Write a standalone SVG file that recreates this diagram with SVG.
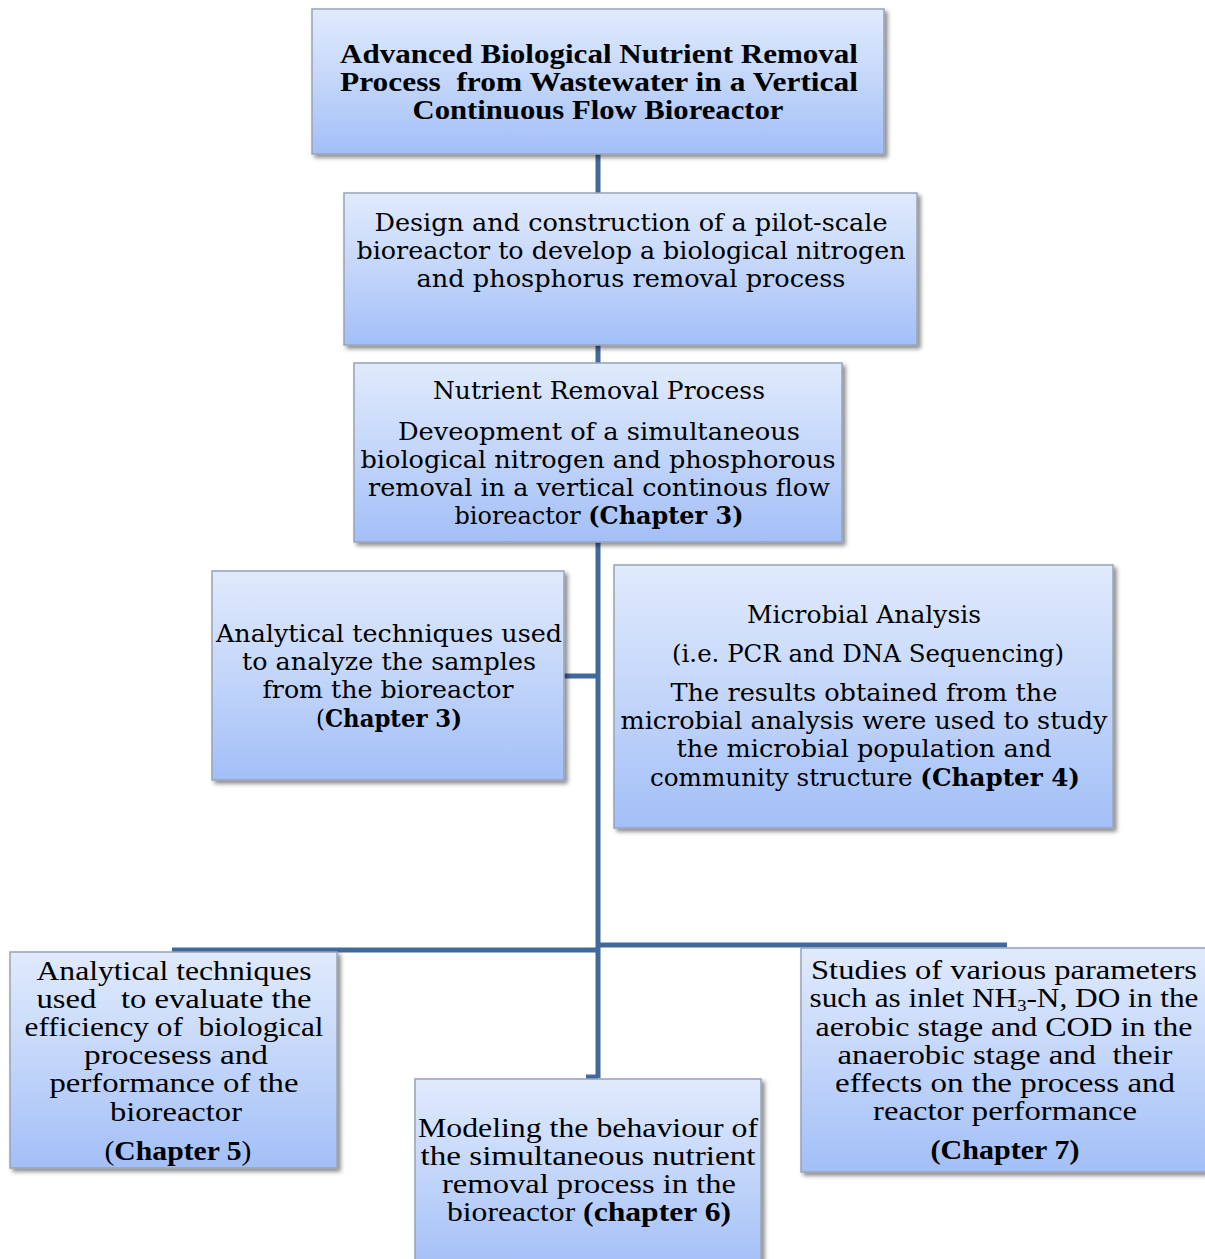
<svg xmlns="http://www.w3.org/2000/svg" width="1205" height="1259" viewBox="0 0 1205 1259">
<defs>
<linearGradient id="g" x1="0" y1="0" x2="0" y2="1">
<stop offset="0" stop-color="#e0eafc"/>
<stop offset="0.5" stop-color="#c3d6fa"/>
<stop offset="1" stop-color="#a2bff7"/>
</linearGradient>
<filter id="sh" x="-5%" y="-5%" width="112%" height="115%">
<feDropShadow dx="3" dy="3" stdDeviation="2" flood-color="#000" flood-opacity="0.45"/>
</filter>
</defs>
<style>
.box{fill:url(#g);stroke:#98a3b6;stroke-width:1.5;filter:url(#sh)}
.t{font-family:"DejaVu Serif","Liberation Serif",serif;font-size:24px;fill:#000;text-anchor:middle}
.c{font-family:"Liberation Serif","DejaVu Serif",serif;font-size:27px;fill:#000;text-anchor:middle}
.b{font-weight:bold}
.ln{stroke:#41699c;stroke-width:5;fill:none}
</style>
<g id="connectors">
<line class="ln" x1="598" y1="154" x2="598" y2="194"/>
<line class="ln" x1="598" y1="345" x2="598" y2="364"/>
<line class="ln" x1="598" y1="542" x2="598" y2="1078"/>
<line class="ln" x1="564" y1="676" x2="598" y2="676" stroke-width="4"/>
<line class="ln" x1="172" y1="950" x2="598" y2="950"/>
<line class="ln" x1="598" y1="945" x2="1007" y2="945"/>
<line class="ln" x1="586" y1="1077" x2="598" y2="1077" stroke-width="3"/>
</g>
<g id="n1">
<rect class="box" x="312" y="9" width="572" height="145"/>
<text class="c b" x="599" y="63" textLength="518" lengthAdjust="spacingAndGlyphs">Advanced Biological Nutrient Removal</text>
<text class="c b" x="599" y="91" textLength="518" lengthAdjust="spacingAndGlyphs" xml:space="preserve">Process  from Wastewater in a Vertical</text>
<text class="c b" x="598" y="119" textLength="371" lengthAdjust="spacingAndGlyphs">Continuous Flow Bioreactor</text>
</g>
<g id="n2">
<rect class="box" x="344" y="193" width="573" height="152"/>
<text class="t" x="631" y="231" textLength="513" lengthAdjust="spacingAndGlyphs">Design and construction of a pilot-scale</text>
<text class="t" x="631" y="259" textLength="549" lengthAdjust="spacingAndGlyphs">bioreactor to develop a biological nitrogen</text>
<text class="t" x="631" y="287" textLength="429" lengthAdjust="spacingAndGlyphs">and phosphorus removal process</text>
</g>
<g id="n3">
<rect class="box" x="354" y="363" width="488" height="179"/>
<text class="t" x="599" y="399" textLength="332" lengthAdjust="spacingAndGlyphs">Nutrient Removal Process</text>
<text class="t" x="599" y="440" textLength="402" lengthAdjust="spacingAndGlyphs">Deveopment of a simultaneous</text>
<text class="t" x="598" y="468" textLength="475" lengthAdjust="spacingAndGlyphs">biological nitrogen and phosphorous</text>
<text class="t" x="599" y="496" textLength="462" lengthAdjust="spacingAndGlyphs">removal in a vertical continous flow</text>
<text class="t" x="599" y="524" textLength="289" lengthAdjust="spacingAndGlyphs">bioreactor <tspan class="b">(Chapter 3)</tspan></text>
</g>
<g id="n4">
<rect class="box" x="212" y="571" width="352" height="209"/>
<text class="t" x="389" y="642" textLength="346" lengthAdjust="spacingAndGlyphs">Analytical techniques used</text>
<text class="t" x="389" y="670" textLength="294" lengthAdjust="spacingAndGlyphs">to analyze the samples</text>
<text class="t" x="388" y="698" textLength="251" lengthAdjust="spacingAndGlyphs">from the bioreactor</text>
<text class="t" x="389" y="727" textLength="146" lengthAdjust="spacingAndGlyphs">(<tspan class="b">Chapter 3)</tspan></text>
</g>
<g id="n5">
<rect class="box" x="614" y="565" width="499" height="263"/>
<text class="t" x="864" y="623" textLength="234" lengthAdjust="spacingAndGlyphs">Microbial Analysis</text>
<text class="t" x="868" y="662" textLength="392" lengthAdjust="spacingAndGlyphs">(i.e. PCR and DNA Sequencing)</text>
<text class="t" x="864" y="701" textLength="387" lengthAdjust="spacingAndGlyphs">The results obtained from the</text>
<text class="t" x="864" y="729" textLength="487" lengthAdjust="spacingAndGlyphs">microbial analysis were used to study</text>
<text class="t" x="864" y="757" textLength="375" lengthAdjust="spacingAndGlyphs">the microbial population and</text>
<text class="t" x="865" y="786" textLength="430" lengthAdjust="spacingAndGlyphs">community structure <tspan class="b">(Chapter 4)</tspan></text>
</g>
<g id="n6">
<rect class="box" x="10" y="952" width="327" height="216"/>
<text class="c" x="174" y="980" textLength="275" lengthAdjust="spacingAndGlyphs">Analytical techniques</text>
<text class="c" x="174" y="1008" textLength="275" lengthAdjust="spacingAndGlyphs" xml:space="preserve">used   to evaluate the</text>
<text class="c" x="174" y="1036" textLength="299" lengthAdjust="spacingAndGlyphs" xml:space="preserve">efficiency of  biological</text>
<text class="c" x="176" y="1064" textLength="184" lengthAdjust="spacingAndGlyphs">procesess and</text>
<text class="c" x="174" y="1092" textLength="249" lengthAdjust="spacingAndGlyphs">performance of the</text>
<text class="c" x="176" y="1121" textLength="132" lengthAdjust="spacingAndGlyphs">bioreactor</text>
<text class="c" x="178" y="1160" textLength="147" lengthAdjust="spacingAndGlyphs">(<tspan class="b">Chapter 5</tspan>)</text>
</g>
<g id="n7">
<rect class="box" x="415" y="1079" width="346" height="190"/>
<text class="c" x="588" y="1137" textLength="340" lengthAdjust="spacingAndGlyphs">Modeling the behaviour of</text>
<text class="c" x="588" y="1165" textLength="335" lengthAdjust="spacingAndGlyphs">the simultaneous nutrient</text>
<text class="c" x="589" y="1193" textLength="294" lengthAdjust="spacingAndGlyphs">removal process in the</text>
<text class="c" x="589" y="1221" textLength="284" lengthAdjust="spacingAndGlyphs">bioreactor <tspan class="b">(chapter 6)</tspan></text>
</g>
<g id="n8">
<rect class="box" x="801" y="948" width="412" height="224"/>
<text class="c" x="1004" y="979" textLength="386" lengthAdjust="spacingAndGlyphs">Studies of various parameters</text>
<text class="c" x="1004" y="1007" textLength="389" lengthAdjust="spacingAndGlyphs">such as inlet NH<tspan font-size="16" dy="4">3</tspan><tspan dy="-4">-N, DO in the</tspan></text>
<text class="c" x="1004" y="1036" textLength="377" lengthAdjust="spacingAndGlyphs">aerobic stage and COD in the</text>
<text class="c" x="1005" y="1064" textLength="335" lengthAdjust="spacingAndGlyphs" xml:space="preserve">anaerobic stage and  their</text>
<text class="c" x="1005" y="1092" textLength="340" lengthAdjust="spacingAndGlyphs">effects on the process and</text>
<text class="c" x="1005" y="1120" textLength="264" lengthAdjust="spacingAndGlyphs">reactor performance</text>
<text class="c b" x="1005" y="1159" textLength="149" lengthAdjust="spacingAndGlyphs">(Chapter 7)</text>
</g>
</svg>
